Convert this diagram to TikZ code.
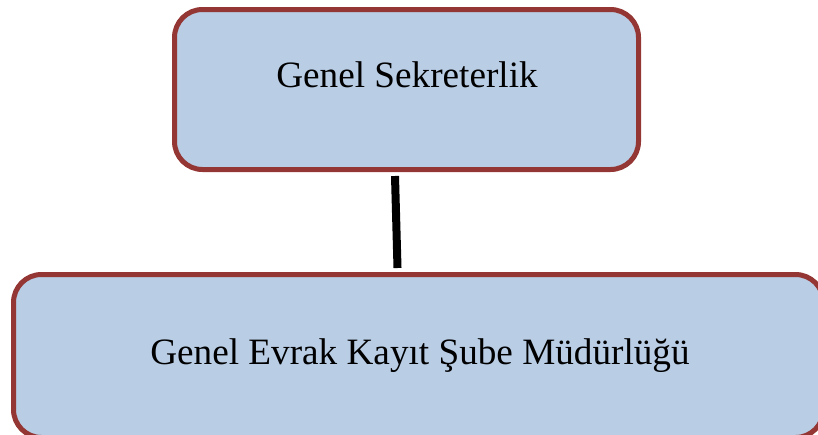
\documentclass[tikz,border=0pt]{standalone}
\usepackage{fontspec}
\setmainfont{Liberation Serif}
\definecolor{boxfill}{HTML}{B9CDE5}
\definecolor{boxline}{HTML}{943634}
\begin{document}
\begin{tikzpicture}[x=1pt,y=-1pt,
  orgbox/.style={draw=boxline, line width=5pt, fill=boxfill, rounded corners=28pt},
  lbl/.style={font=\fontsize{37.2}{44}\selectfont, inner sep=0pt, anchor=base},
  link/.style={draw=black, line width=8pt}]
\useasboundingbox (0,0) rectangle (818,434);
\begin{scope}
\clip (0,0) rectangle (818,434);
\draw[orgbox] (174.5,9.5) rectangle (638.5,169.5);
\draw[orgbox] (13.5,274.5) rectangle (823.5,437.5);
\end{scope}
\node[lbl] (gs) at (407,87) {Genel Sekreterlik};
\node[lbl] (gek) at (420,364) {Genel Evrak Kayıt Şube Müdürlüğü};
\coordinate (c1) at (395,176);
\coordinate (c2) at (397.5,268);
\draw[link] (c1) -- (c2);
\end{tikzpicture}
\end{document}
